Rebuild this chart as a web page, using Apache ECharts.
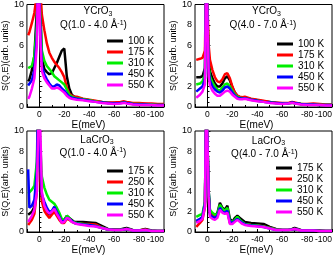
<!DOCTYPE html>
<html><head><meta charset="utf-8">
<script src="https://cdn.jsdelivr.net/npm/echarts@6.0.0/dist/echarts.min.js"></script>
<style>html,body{margin:0;padding:0;background:#fff}#c{width:336px;height:256px}</style>
</head><body><div id="c"></div>
<script>
// Energy transfer grid (meV)
const energy = [9,8,6,4,2,1,0,-1,-2,-4,-6,-8,-10,-12,-14,-16,-18,-20,-22,-24,-26,-28,-30,-35,-40,-45,-50,-55,-60,-65,-68,-70,-75,-80,-85,-90,-95,-100];
const xTicks = [-100,-80,-60,-40,-20,0];
const yTicks = [0,2,4,6,8,10];

// Panel 1: YCrO3 Q(1.0-4.0)
const p1Labels = ['100 K','175 K','310 K','450 K','550 K'];
const p1_100 = [2.5,2.7,3.6,5.0,9.5,14,14, 9,4.8,3.7,3.4,3.2,3.3, 3.8,4.3,4.9,5.5,5.7, 3.0,1.8,1.2,1.0,0.9, 0.75,0.65,0.55,0.5,0.4,0.4, 0.45,0.5,0.45,0.35,0.3, 0.3,0.25,0.25,0.2];
const p1_175 = [7.0,7.3,8.2,9.2,11,14,14, 11,9,7.5,6.2,5.3,4.8, 4.4,4.1,3.8,3.4,2.9, 1.9,1.3,1.1,1.0,1.0, 0.8,0.7,0.6,0.5,0.45,0.45, 0.5,0.55,0.5,0.4,0.4, 0.35,0.35,0.3,0.3];
const p1_310 = [3.8,3.9,4.0,5.0,8,14,14, 8,5.5,4.5,4.0,3.7,3.4, 3.0,2.8,2.6,2.4,2.2, 1.7,1.2,1.0,0.9,0.85, 0.75,0.65,0.55,0.45,0.4,0.35, 0.4,0.45,0.4,0.3,0.3, 0.25,0.25,0.2,0.2];
const p1_450 = [2.1,2.2,2.6,3.6,7,14,14, 7,4.0,3.2,2.7,2.3,2.0, 2.0,2.2,2.1,1.8,1.6, 1.3,1.0,0.9,0.85,0.8, 0.7,0.6,0.5,0.45,0.4,0.35, 0.4,0.45,0.4,0.3,0.25, 0.25,0.2,0.2,0.2];
const p1_550 = [0.8,1.0,1.8,2.8,6,14,14, 6,3.5,2.8,2.4,2.1,1.8, 1.8,1.9,1.8,1.6,1.4, 1.1,0.9,0.8,0.75,0.7, 0.65,0.55,0.5,0.4,0.35,0.3, 0.35,0.4,0.35,0.25,0.2, 0.2,0.2,0.15,0.15];

// Panel 2: YCrO3 Q(4.0-7.0)
const p2Labels = ['100 K','175 K','310 K','450 K','550 K'];
const p2_100 = [2.9,2.9,2.9,3.0,3.8,14,14, 4.5,3.5,2.8,2.3,2.0,2.0, 2.3,2.8,3.0,2.6,1.9, 1.4,1.1,0.95,0.9,0.9, 0.75,0.65,0.55,0.5,0.4,0.35, 0.35,0.45,0.4,0.3,0.25, 0.25,0.2,0.2,0.2];
const p2_175 = [4.6,4.7,4.7,4.8,5.5,14,14, 6,4.6,3.6,2.9,2.5,2.4, 2.7,3.2,3.3,2.8,2.0, 1.4,1.1,1.0,0.95,1.0, 0.8,0.7,0.6,0.5,0.45,0.4, 0.4,0.5,0.45,0.3,0.3, 0.35,0.3,0.25,0.25];
const p2_310 = [2.2,2.2,2.3,2.5,3.2,14,14, 4,3.0,2.4,2.0,1.7,1.6, 1.9,2.2,2.3,2.0,1.6, 1.2,1.0,0.9,0.85,0.85, 0.7,0.6,0.5,0.45,0.4,0.35, 0.35,0.4,0.35,0.3,0.25, 0.25,0.2,0.2,0.2];
const p2_450 = [1.5,1.6,1.8,2.0,2.8,14,14, 3.5,2.6,2.0,1.7,1.5,1.4, 1.6,1.9,2.0,1.8,1.4, 1.1,0.9,0.85,0.8,0.85, 0.7,0.6,0.5,0.45,0.4,0.35, 0.35,0.45,0.4,0.3,0.25, 0.25,0.2,0.2,0.2];
const p2_550 = [0.9,1.0,1.2,1.5,2.2,14,14, 3.0,2.1,1.6,1.3,1.1,1.1, 1.3,1.5,1.6,1.5,1.2, 1.0,0.8,0.75,0.75,0.8, 0.65,0.55,0.5,0.4,0.35,0.3, 0.35,0.4,0.35,0.25,0.2, 0.2,0.2,0.15,0.15];

// Panel 3: LaCrO3 Q(1.0-4.0)
const p3Labels = ['175 K','250 K','310 K','450 K','550 K'];
const p3_175 = [1.7,1.8,2.0,2.5,5,14,14, 6,3.2,2.6,2.1,1.7,2.0, 2.4,1.9,1.5,1.0,1.2, 1.6,1.4,1.2,1.0,1.0, 1.0,0.95,0.9,0.6,0.3,0.25, 0.25,0.35,0.4,0.2,0.15, 0.3,0.15,0.1,0.1];
const p3_250 = [0.7,0.8,1.2,1.8,4,14,14, 5,3.0,2.1,1.7,1.4,1.7, 2.0,1.6,1.2,0.9,0.9, 1.3,1.2,1.0,0.9,0.85, 0.8,0.8,0.75,0.45,0.25,0.2, 0.2,0.25,0.3,0.15,0.15, 0.25,0.1,0.1,0.1];
const p3_310 = [3.8,3.9,4.2,4.6,7,14,14, 8,5.5,4.4,3.7,3.2,3.0, 2.8,2.4,1.9,1.3,1.2, 1.6,1.4,1.1,0.95,0.9, 0.8,0.7,0.6,0.45,0.25,0.2, 0.2,0.25,0.3,0.15,0.15, 0.2,0.1,0.1,0.1];
const p3_450 = [6.2,2.4,2.6,3.2,6,14,14, 6,3.7,3.0,2.4,2.0,2.1, 2.5,2.0,1.5,1.0,1.1, 1.4,1.3,1.1,0.9,0.85, 0.75,0.7,0.6,0.4,0.25,0.2, 0.2,0.25,0.3,0.15,0.15, 0.2,0.1,0.1,0.1];
const p3_550 = [1.0,1.2,1.6,2.2,4,10,14, 14,4,2.6,2.1,1.8,2.0, 2.3,1.8,1.4,0.9,1.0, 1.4,1.3,1.0,0.9,0.8, 0.7,0.6,0.55,0.4,0.25,0.2, 0.2,0.25,0.3,0.15,0.15, 0.2,0.1,0.1,0.1];

// Panel 4: LaCrO3 Q(4.0-7.0)
const p4Labels = ['175 K','250 K','310 K','450 K','550 K'];
const p4_175 = [1.0,1.1,1.2,1.5,3,14,14, 4,2.0,1.7,1.6,1.9,2.9, 2.4,2.2,2.6,1.3,1.0, 1.4,1.6,1.4,1.2,1.0, 0.9,0.85,0.8,0.5,0.3,0.2, 0.2,0.3,0.4,0.2,0.15, 0.15,0.15,0.1,0.1];
const p4_250 = [0.5,0.6,0.9,1.2,2.5,14,14, 3.5,1.8,1.6,1.5,1.6,2.4, 2.1,1.9,2.1,0.9,0.9, 1.1,1.3,1.1,0.9,0.8, 0.7,0.65,0.55,0.4,0.25,0.2, 0.2,0.25,0.3,0.15,0.15, 0.15,0.1,0.1,0.1];
const p4_310 = [1.5,1.6,1.7,1.8,3,14,14, 4,2.2,1.9,1.7,1.8,2.7, 2.3,2.1,2.4,1.1,1.0, 1.2,1.5,1.2,1.0,0.8, 0.7,0.65,0.55,0.4,0.25,0.2, 0.2,0.25,0.3,0.15,0.15, 0.15,0.1,0.1,0.1];
const p4_450 = [1.1,1.2,1.3,1.5,2.8,14,14, 4,1.7,1.5,1.4,1.6,2.4, 2.0,1.9,2.1,1.0,0.9, 1.1,1.3,1.1,0.9,0.75, 0.65,0.6,0.5,0.35,0.2,0.2, 0.2,0.25,0.3,0.15,0.15, 0.15,0.1,0.1,0.1];
const p4_550 = [0.9,1.0,1.1,1.3,2.5,14,14, 3.5,1.5,1.3,1.2,1.4,2.2, 1.9,1.8,1.9,0.8,0.8, 1.0,1.2,1.0,0.8,0.7, 0.6,0.55,0.5,0.35,0.2,0.2, 0.2,0.25,0.3,0.15,0.15, 0.15,0.1,0.1,0.1];

const colors = ['#000000','#ff0000','#00ee00','#0000ff','#ff00ff'];
const FONT = '"Liberation Sans", Arial, sans-serif';

const panels = [
  {labels:p1Labels, data:[p1_100,p1_175,p1_310,p1_450,p1_550], grid:{left:23,top:3,width:141,height:104}, legend:{left:107,top:36}, t1:'YCrO{sub|3}', t1pos:[98,11.5], t2:'Q(1.0 - 4.0 Å{sup|-1})', t2pos:[93.5,25.5], nameGapY:11, nameGapX:8},
  {labels:p2Labels, data:[p2_100,p2_175,p2_310,p2_450,p2_550], grid:{left:195,top:3,width:137,height:104}, legend:{left:277,top:39}, t1:'YCrO{sub|3}', t1pos:[266.5,11.5], t2:'Q(4.0 - 7.0 Å{sup|-1})', t2pos:[263,25.5], nameGapY:14, nameGapX:8},
  {labels:p3Labels, data:[p3_175,p3_250,p3_310,p3_450,p3_550], grid:{left:23,top:131,width:141,height:101}, legend:{left:107,top:166}, t1:'LaCrO{sub|3}', t1pos:[97,140], t2:'Q(1.0 - 4.0 Å{sup|-1})', t2pos:[93,153], nameGapY:11, nameGapX:12},
  {labels:p4Labels, data:[p4_175,p4_250,p4_310,p4_450,p4_550], grid:{left:195,top:131,width:137,height:101}, legend:{left:276,top:163}, t1:'LaCrO{sub|3}', t1pos:[268.5,141], t2:'Q(4.0 - 7.0 Å{sup|-1})', t2pos:[264.5,154.5], nameGapY:14, nameGapX:12}
];

const rich = {
  sub:{fontSize:7, fontFamily:FONT, padding:[5,0,0,0], fill:'#000', color:'#000'},
  sup:{fontSize:7, fontFamily:FONT, padding:[0,0,5,0], fill:'#000', color:'#000'}
};

const option = {
  animation:false,
  backgroundColor:'#fff',
  grid:[], xAxis:[], yAxis:[], series:[], legend:[], graphic:[]
};

panels.forEach((p,i)=>{
  option.grid.push(Object.assign({show:true, borderColor:'#000', borderWidth:1, backgroundColor:'transparent'}, p.grid));
  option.xAxis.push({
    type:'value', gridIndex:i, min:-100, max:10, interval:20, inverse:true,
    name:'E(meV)', nameLocation:'middle', nameGap:p.nameGapX,
    nameTextStyle:{fontFamily:FONT, fontSize:10, color:'#000', verticalAlign:'top', padding:[0,14,0,0]},
    axisLine:{lineStyle:{color:'#000',width:1}},
    axisTick:{inside:true,length:3,lineStyle:{color:'#000'}},
    minorTick:{show:true,splitNumber:2,length:2,lineStyle:{color:'#000'}},
    splitLine:{show:false},
    axisLabel:{fontFamily:FONT,fontSize:8.5,color:'#000',margin:3,alignMinLabel:'right',
      formatter:v=> xTicks.indexOf(v)>=0 ? String(v) : ''}
  });
  option.yAxis.push({
    type:'value', gridIndex:i, min:0, max:10, interval:2,
    name:'S(Q,E)(arb. units)', nameLocation:'middle', nameGap:p.nameGapY,
    nameTextStyle:{fontFamily:FONT, fontSize:9, color:'#000'},
    axisLine:{lineStyle:{color:'#000',width:1}},
    axisTick:{inside:true,length:3,lineStyle:{color:'#000'}},
    minorTick:{show:true,splitNumber:4,length:2,lineStyle:{color:'#000'}},
    splitLine:{show:false},
    axisLabel:{fontFamily:FONT,fontSize:9,color:'#000',margin:3,
      formatter:v=> yTicks.indexOf(v)>=0 ? String(v) : ''}
  });
  const names = [];
  p.data.forEach((vals,j)=>{
    const nm = p.labels[j]+'|'+i;
    names.push(nm);
    option.series.push({
      type:'line', name:nm, xAxisIndex:i, yAxisIndex:i,
      data: energy.map((e,k)=>[e, vals[k]]),
      symbol:'none', showSymbol:false, clip:true,
      lineStyle:{width:2.5,color:colors[j]}, itemStyle:{color:colors[j]}
    });
  });
  option.legend.push({
    data:names, orient:'vertical', left:p.legend.left, top:p.legend.top,
    icon:'rect', itemWidth:16, itemHeight:3, itemGap:1, padding:0,
    selectedMode:false,
    formatter:n=>n.split('|')[0],
    textStyle:{fontFamily:FONT,fontSize:10,color:'#000',lineHeight:10}
  });
  option.graphic.push({type:'text', x:p.t1pos[0], y:p.t1pos[1], style:{text:p.t1, align:'center', verticalAlign:'middle', fontFamily:FONT, fontSize:10, fill:'#000', rich}});
  option.graphic.push({type:'text', x:p.t2pos[0], y:p.t2pos[1], style:{text:p.t2, align:'center', verticalAlign:'middle', fontFamily:FONT, fontSize:10, fill:'#000', rich}});
});

const chart = echarts.init(document.getElementById('c'), null, {renderer:'canvas'});
chart.setOption(option);
</script></body></html>
